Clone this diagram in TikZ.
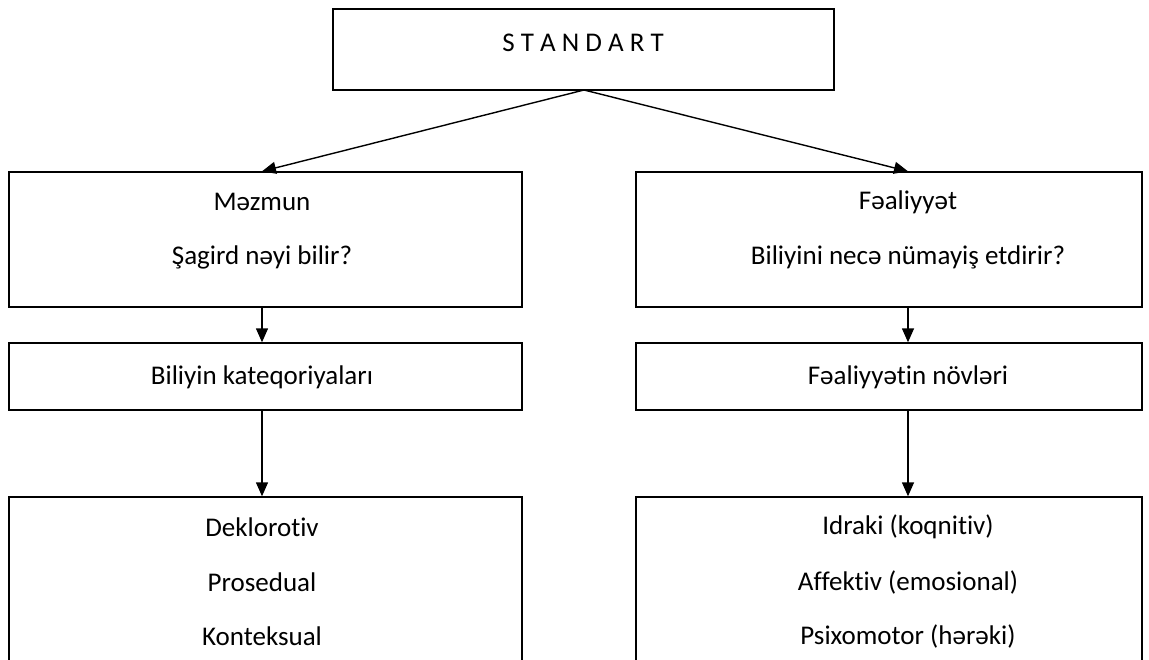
\documentclass[tikz,border=0pt]{standalone}
\usepackage{fontspec}
\setmainfont[Ligatures=NoCommon]{Carlito}
\usetikzlibrary{arrows.meta}
\begin{document}
\begin{tikzpicture}[x=1pt,y=-1pt,
  box/.style={draw, line width=1.4pt, rectangle, inner sep=0pt},
  txt/.style={font=\fontsize{27}{30}\selectfont, inner sep=0pt, anchor=center},
  arr/.style={line width=1.4pt, -{Triangle[length=14pt,width=12pt]}}]
\clip (0,0) rectangle (1149,659);
% boxes
\node[box, minimum width=501pt, minimum height=81pt] (std) at (583.5,49.5) {};
\node[box, minimum width=513pt, minimum height=135pt] (mez) at (265.5,239.5) {};
\node[box, minimum width=506pt, minimum height=135pt] (fea) at (889,239.5) {};
\node[box, minimum width=513pt, minimum height=67pt] (kat) at (265.5,376.5) {};
\node[box, minimum width=506pt, minimum height=67pt] (nov) at (889,376.5) {};
\node[box, minimum width=513pt, minimum height=260pt] (kl) at (265.5,627) {};
\node[box, minimum width=506pt, minimum height=260pt] (kr) at (889,627) {};
% texts
\node[txt] (t0) at (583,43) {S T A N D A R T};
\node[txt] (t1) at (262,202) {Məzmun};
\node[txt] (t2) at (262,257) {Şagird nəyi bilir?};
\node[txt] (t3) at (908,202) {Fəaliyyət};
\node[txt] (t4) at (908,257) {Biliyini necə nümayiş etdirir?};
\node[txt] (t5) at (262,377) {Biliyin kateqoriyaları};
\node[txt] (t6) at (908,377) {Fəaliyyətin növləri};
\node[txt] (t7) at (262,527) {Deklorotiv};
\node[txt] (t8) at (262,582) {Prosedual};
\node[txt] (t9) at (262,636) {Konteksual};
\node[txt] (t10) at (908,527) {Idraki (koqnitiv)};
\node[txt] (t11) at (908,582) {Affektiv (emosional)};
\node[txt] (t12) at (908,636) {Psixomotor (hərəki)};
% connectors
\coordinate (s) at (584,90);
\draw[arr] (s) -- (mez.north -| t1.center);
\draw[arr] (s) -- (fea.north -| t3.center);
\draw[arr] (mez.south -| t1.center) -- (kat.north -| t1.center);
\draw[arr] (fea.south -| t3.center) -- (nov.north -| t3.center);
\draw[arr] (kat.south -| t1.center) -- (kl.north -| t1.center);
\draw[arr] (nov.south -| t3.center) -- (kr.north -| t3.center);
\end{tikzpicture}
\end{document}
